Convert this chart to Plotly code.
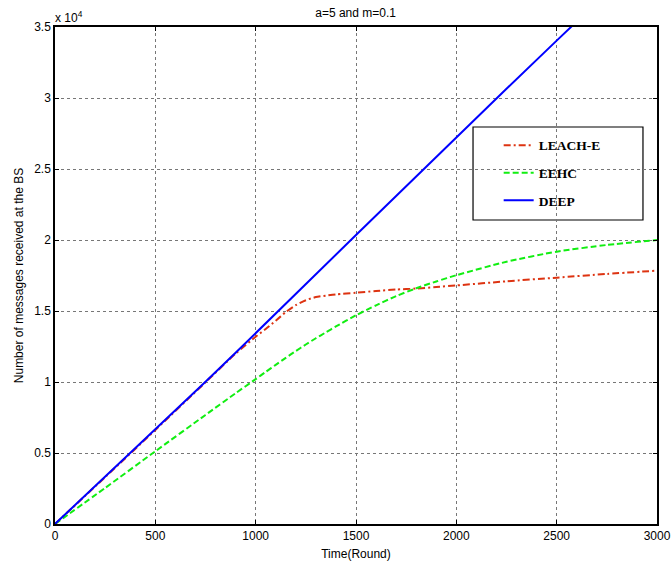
import plotly.graph_objects as go

# Rounds at which the message counts were sampled
rounds = [0, 250, 500, 750, 900, 1000, 1050, 1100, 1150, 1200, 1250, 1300, 1350, 1400,
          1500, 1600, 1700, 1800, 1900, 2000, 2250, 2500, 2750, 3000]

# Cumulative messages received at the BS
leach_e = [0, 3300, 6620, 9980, 12000, 13190, 13730, 14320, 14920, 15410, 15760, 15980,
           16080, 16170, 16290, 16410, 16510, 16580, 16690, 16800, 17090, 17350, 17610, 17840]
eehc = [0, 2540, 5120, 7680, 9210, 10200, 10710, 11210, 11700, 12180, 12640, 13080,
        13500, 13910, 14700, 15400, 16050, 16600, 17080, 17520, 18470, 19180, 19650, 20000]
deep = [0, 3330, 6650, 10020, 12060, 13430, 14120, 14810, 15500, 16200, 16890, 17580,
        18270, 18970, 20350, 21730, 23110, 24500, 25880, 27270, 30650, 34040, 37400, 40770]

y_ticks = [0, 5000, 10000, 15000, 20000, 25000, 30000, 35000]
y_tick_text = ["0", "0.5", "1", "1.5", "2", "2.5", "3", "3.5"]
x_ticks = [0, 500, 1000, 1500, 2000, 2500, 3000]

fig = go.Figure()
fig.add_trace(go.Scatter(x=rounds, y=leach_e, name="LEACH-E", mode="lines",
                         line=dict(color="#dd3311", width=2, dash="7px,3px,2px,3px",
                                   shape="spline", smoothing=0.6),
                         legendgroup="a"))
fig.add_trace(go.Scatter(x=rounds, y=eehc, name="EEHC", mode="lines",
                         line=dict(color="#11ee11", width=2, dash="6px,3px",
                                   shape="spline", smoothing=0.6),
                         legendgroup="b"))
fig.add_trace(go.Scatter(x=rounds, y=deep, name="DEEP", mode="lines",
                         line=dict(color="#0000ff", width=2),
                         legendgroup="c"))

axis_common = dict(
    showline=True, linecolor="black", linewidth=1.5, mirror="ticks",
    ticks="inside", ticklen=4, tickcolor="black",
    showgrid=True, gridcolor="#777777", griddash="dot", gridwidth=1,
    zeroline=False, automargin=False,
    tickfont=dict(family="Liberation Sans, Arial", size=12, color="black"),
)

fig.update_xaxes(range=[0, 3000], tickvals=x_ticks,
                 title=dict(text="Time(Round)", standoff=7,
                            font=dict(family="Liberation Sans, Arial", size=12, color="black")),
                 **axis_common)
fig.update_yaxes(range=[0, 35000], tickvals=y_ticks, ticktext=y_tick_text,
                 title=dict(text="Number of messages received at the BS", standoff=8,
                            font=dict(family="Liberation Sans, Arial", size=12, color="black")),
                 **axis_common)

fig.add_annotation(text="x 10<sup>4</sup>", xref="paper", yref="paper", x=0, y=1,
                   xanchor="left", yanchor="bottom", showarrow=False, xshift=-2,
                   font=dict(family="Liberation Sans, Arial", size=12, color="black"))

# Legend frame
fig.add_shape(type="rect", xref="paper", yref="paper",
              x0=0.6944, x1=0.9767, y0=0.6117, y1=0.7988,
              line=dict(color="black", width=1.2), fillcolor="white", layer="below")

fig.update_layout(
    width=671, height=568,
    margin=dict(l=55, r=14, t=27, b=44),
    paper_bgcolor="white", plot_bgcolor="white",
    title=dict(text="a=5 and m=0.1", x=0.53, xanchor="center", y=0.985, yanchor="top",
               font=dict(family="Liberation Sans, Arial", size=12, color="black")),
    showlegend=True,
    legend=dict(x=0.737, y=0.793, xanchor="left", yanchor="top",
                bgcolor="rgba(0,0,0,0)", borderwidth=0,
                traceorder="grouped", tracegroupgap=7,
                font=dict(family="Liberation Serif, Times New Roman", size=13.5,
                          color="black", weight="bold")),
)

fig.write_html("out.html")
